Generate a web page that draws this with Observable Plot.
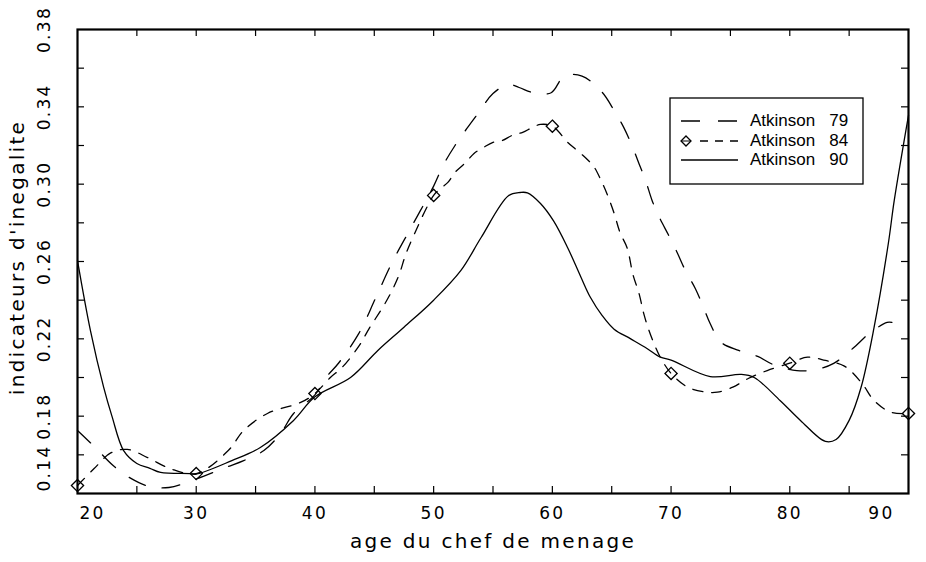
<!DOCTYPE html>
<html>
<head>
<meta charset="utf-8">
<script src="https://cdn.jsdelivr.net/npm/d3@7"></script>
<script src="https://cdn.jsdelivr.net/npm/@observablehq/plot@0.6"></script>
<style>
  body { margin: 0; background: #fff; }
  #chart { width: 926px; height: 562px; }
</style>
</head>
<body>
<div id="chart"></div>
<script>
// ---- Data ----
const seriesNames = ["Atkinson 79", "Atkinson 84", "Atkinson 90"];

const ages79 = [20, 21.5, 23, 24.5, 26, 27.7, 30, 32.5, 34, 35.7, 37.1, 38.2, 40, 41, 42, 43.7, 45.1, 46.5, 48.1, 50,
  50.8, 51.8, 52.8, 53.8, 55, 56.3, 57.2, 58.4, 59.9, 61, 62.5, 64.2, 65.2, 66.0, 66.7, 67.3, 67.85, 68.4, 69.0, 69.8,
  70.5, 71.2, 72.05, 72.7, 73.3, 74.2, 75.7, 77.3, 78.6, 80.6, 82.2, 83.7, 85.3, 86.8, 88.2, 88.6];
const vals79 = [0.1726, 0.1638, 0.1545, 0.1478, 0.1437, 0.1431, 0.1475, 0.1535, 0.157, 0.1622, 0.171, 0.1814, 0.191, 0.2005, 0.2075, 0.2228, 0.2409, 0.2595, 0.2776, 0.299,
  0.3097, 0.32, 0.3288, 0.3371, 0.3469, 0.3516, 0.350, 0.3473, 0.3473, 0.3559, 0.3559, 0.3475, 0.3381, 0.3295, 0.320, 0.3106, 0.302, 0.2916, 0.283, 0.2735,
  0.2648, 0.2554, 0.2459, 0.2367, 0.2278, 0.2183, 0.214, 0.2109, 0.2067, 0.2036, 0.2041, 0.2073, 0.215, 0.2233, 0.2285, 0.2285];

const ages84 = [20, 21.4, 22.8, 24.2, 25.9, 27.8, 30, 32.7, 34, 36, 38.8, 40, 41.3, 42.3, 43.7, 44.6, 45.6, 46.4, 47.1, 47.6,
  48.2, 50, 50.6, 51.2, 51.8, 52.7, 53.4, 54.2, 55, 55.8, 56.6, 57.5, 58.3, 59, 60, 61.3, 62.1, 62.9, 63.5, 64.1,
  64.6, 65.2, 65.7, 66.3, 66.8, 67.3, 67.7, 68.1, 68.7, 69.1, 70, 71.4, 73, 73.9, 75.2, 76.5, 78.1, 80, 81.5, 83,
  84.6, 86.1, 87.1, 88.5, 90];
const vals84 = [0.1441, 0.1529, 0.161, 0.1628, 0.1586, 0.1529, 0.1503, 0.1622, 0.1726, 0.1814, 0.1871, 0.1917, 0.200, 0.2053, 0.2162, 0.2257, 0.2352, 0.2438, 0.2533, 0.2628,
  0.2718, 0.2942, 0.2978, 0.3009, 0.3061, 0.3112, 0.3159, 0.319, 0.3216, 0.3226, 0.3252, 0.3268, 0.3293, 0.3309, 0.330, 0.3216, 0.3174, 0.313, 0.309, 0.302,
  0.295, 0.285, 0.275, 0.267, 0.253, 0.2435, 0.233, 0.225, 0.2155, 0.2104, 0.2021, 0.195, 0.1924, 0.1924, 0.195, 0.1995, 0.2036, 0.2074, 0.2105, 0.2088,
  0.2059, 0.1968, 0.1881, 0.1821, 0.1814];
const markerAges84 = [20, 30, 40, 50, 60, 70, 80, 90];

const ages90 = [20, 21.1, 22.2, 22.9, 23.9, 25, 26.1, 27, 29.5, 30, 33, 35.4, 38.2, 40, 43, 45.3, 47.5, 50, 52.3, 54,
  56.3, 57.3, 57.9, 59, 60.1, 61.3, 62.4, 63.2, 64.2, 65.2, 66.6, 68, 69.1, 70, 73.3, 75.9, 77, 79.2, 80.9, 83,
  83.9, 85, 86, 87.1, 88.3, 88.8, 90];
const vals90 = [0.2605, 0.224, 0.195, 0.180, 0.162, 0.1555, 0.153, 0.1509, 0.1503, 0.150, 0.157, 0.1638, 0.1778, 0.190, 0.200, 0.214, 0.226, 0.240, 0.2554, 0.2724,
  0.294, 0.2957, 0.2955, 0.290, 0.281, 0.267, 0.252, 0.2415, 0.232, 0.225, 0.220, 0.2149, 0.2105, 0.209, 0.2005, 0.2016, 0.200, 0.188, 0.1778, 0.1669,
  0.1679, 0.1778, 0.1948, 0.2259, 0.2693, 0.2916, 0.3356];

const xLabelTicks = [20, 30, 40, 50, 60, 70, 80, 90];
const xMinorTicks = [25, 30, 35, 40, 45, 50, 55, 60, 65, 70, 75, 80, 85];
const yLabelTicks = [0.14, 0.18, 0.22, 0.26, 0.30, 0.34, 0.38];
const yMinorTicks = [0.16, 0.18, 0.20, 0.22, 0.24, 0.26, 0.28, 0.30, 0.32, 0.34, 0.36];
const xTitle = "age du chef de menage";
const yTitle = "indicateurs d'inegalite";

// ---- Tables ----
const toRows = (ages, vals) => ages.map((a, i) => ({age: a, v: vals[i]}));
const rows79 = toRows(ages79, vals79);
const rows84 = toRows(ages84, vals84);
const rows90 = toRows(ages90, vals90);
const markers84 = rows84.filter(d => markerAges84.includes(d.age));

// ---- Layout ----
const W = 926, H = 562;
const mL = 77, mR = 18, mT = 29, mB = 69;
const innerW = W - mL - mR, innerH = H - mT - mB;
const tk = 7;
const lineW = 1.3;

const chart = Plot.plot({
  width: W, height: H,
  marginLeft: mL, marginRight: mR, marginTop: mT, marginBottom: mB,
  x: {domain: [20, 90], axis: null},
  y: {domain: [0.14, 0.38], axis: null},
  style: {fontFamily: "'DejaVu Sans', sans-serif", background: "white", color: "black", overflow: "visible", letterSpacing: "2.3px"},
  marks: [
    Plot.line(rows79, {x: "age", y: "v", curve: "catmull-rom", stroke: "black", strokeWidth: lineW, strokeDasharray: "18,17"}),
    Plot.line(rows84, {x: "age", y: "v", curve: "catmull-rom", stroke: "black", strokeWidth: lineW, strokeDasharray: "10,9"}),
    Plot.line(rows90, {x: "age", y: "v", curve: "catmull-rom", stroke: "black", strokeWidth: lineW}),
    Plot.dot(markers84, {x: "age", y: "v", symbol: "diamond2", r: 5.5, stroke: "black", strokeWidth: 1.3, fill: "none"}),
    // inward ticks on all four sides
    Plot.tickY(yMinorTicks, {y: d => d, insetRight: innerW - tk, stroke: "black", strokeWidth: 1.2}),
    Plot.tickY(yMinorTicks, {y: d => d, insetLeft: innerW - tk, stroke: "black", strokeWidth: 1.2}),
    Plot.tickX(xMinorTicks, {x: d => d, insetTop: innerH - tk, stroke: "black", strokeWidth: 1.2}),
    Plot.tickX(xMinorTicks, {x: d => d, insetBottom: innerH - tk, stroke: "black", strokeWidth: 1.2}),
    Plot.frame({stroke: "black", strokeWidth: 2.2}),
    // x tick labels
    Plot.text(xLabelTicks.slice(1, -1), {x: d => d, text: d => String(d), frameAnchor: "bottom", lineAnchor: "middle", textAnchor: "middle", dy: 20, fontSize: 17}),
    Plot.text(xLabelTicks.slice(0, 1), {x: d => d, text: d => String(d), frameAnchor: "bottom", lineAnchor: "middle", dy: 20, dx: 2, textAnchor: "start", fontSize: 17}),
    Plot.text(xLabelTicks.slice(-1), {x: d => d, text: d => String(d), frameAnchor: "bottom", lineAnchor: "middle", dy: 20, dx: -14, textAnchor: "end", fontSize: 17}),
    // y tick labels (rotated)
    Plot.text(yLabelTicks.slice(1), {y: d => d, text: d => d.toFixed(2), frameAnchor: "left", lineAnchor: "middle", textAnchor: "middle", dx: -33, rotate: -90, fontSize: 17}),
    Plot.text(yLabelTicks.slice(0, 1), {y: d => d, text: d => d.toFixed(2), frameAnchor: "left", lineAnchor: "middle", textAnchor: "start", dx: -33, dy: -2, rotate: -90, fontSize: 17}),
    // axis titles
    Plot.text([xTitle], {text: d => d, frameAnchor: "bottom", lineAnchor: "middle", textAnchor: "middle", dy: 48, fontSize: 20}),
    Plot.text([yTitle], {text: d => d, frameAnchor: "left", lineAnchor: "middle", textAnchor: "middle", dx: -60, dy: -4, rotate: -90, fontSize: 20})
  ]
});

// ---- Legend (inside the plot, top right) ----
const svg = d3.select(chart);
const lg = svg.append("g").attr("class", "legend")
  .attr("text-anchor", "start")
  .style("font-family", "'Liberation Sans', Arial, sans-serif")
  .style("font-size", "17px")
  .style("letter-spacing", "0px");
lg.append("rect").attr("x", 670).attr("y", 98).attr("width", 193).attr("height", 86)
  .attr("fill", "white").attr("stroke", "black").attr("stroke-width", 1.3);
const rowsY = [121, 141, 160];
// 79: long dashes
lg.append("line").attr("x1", 681).attr("x2", 738).attr("y1", rowsY[0]).attr("y2", rowsY[0])
  .attr("stroke", "black").attr("stroke-width", lineW).attr("stroke-dasharray", "19,18");
// 84: diamond + short dashes
lg.append("path").attr("transform", `translate(686,${rowsY[1]})`)
  .attr("d", d3.symbol(d3.symbolDiamond2, Math.PI * 4.5 * 4.5)())
  .attr("fill", "none").attr("stroke", "black").attr("stroke-width", 1.3);
lg.append("line").attr("x1", 681).attr("x2", 691).attr("y1", rowsY[1]).attr("y2", rowsY[1])
  .attr("stroke", "black").attr("stroke-width", 1);
lg.append("line").attr("x1", 700).attr("x2", 738).attr("y1", rowsY[1]).attr("y2", rowsY[1])
  .attr("stroke", "black").attr("stroke-width", lineW).attr("stroke-dasharray", "8,7");
// 90: solid
lg.append("line").attr("x1", 681).attr("x2", 738).attr("y1", rowsY[2]).attr("y2", rowsY[2])
  .attr("stroke", "black").attr("stroke-width", lineW);
seriesNames.forEach((name, i) => {
  const parts = name.split(" ");
  const t = lg.append("text").attr("x", 750).attr("y", rowsY[i] + 5).attr("fill", "black").attr("text-anchor", "start");
  t.append("tspan").text(parts[0]);
  t.append("tspan").attr("dx", 14).text(parts[1]);
});

document.getElementById("chart").appendChild(chart);
</script>
</body>
</html>
